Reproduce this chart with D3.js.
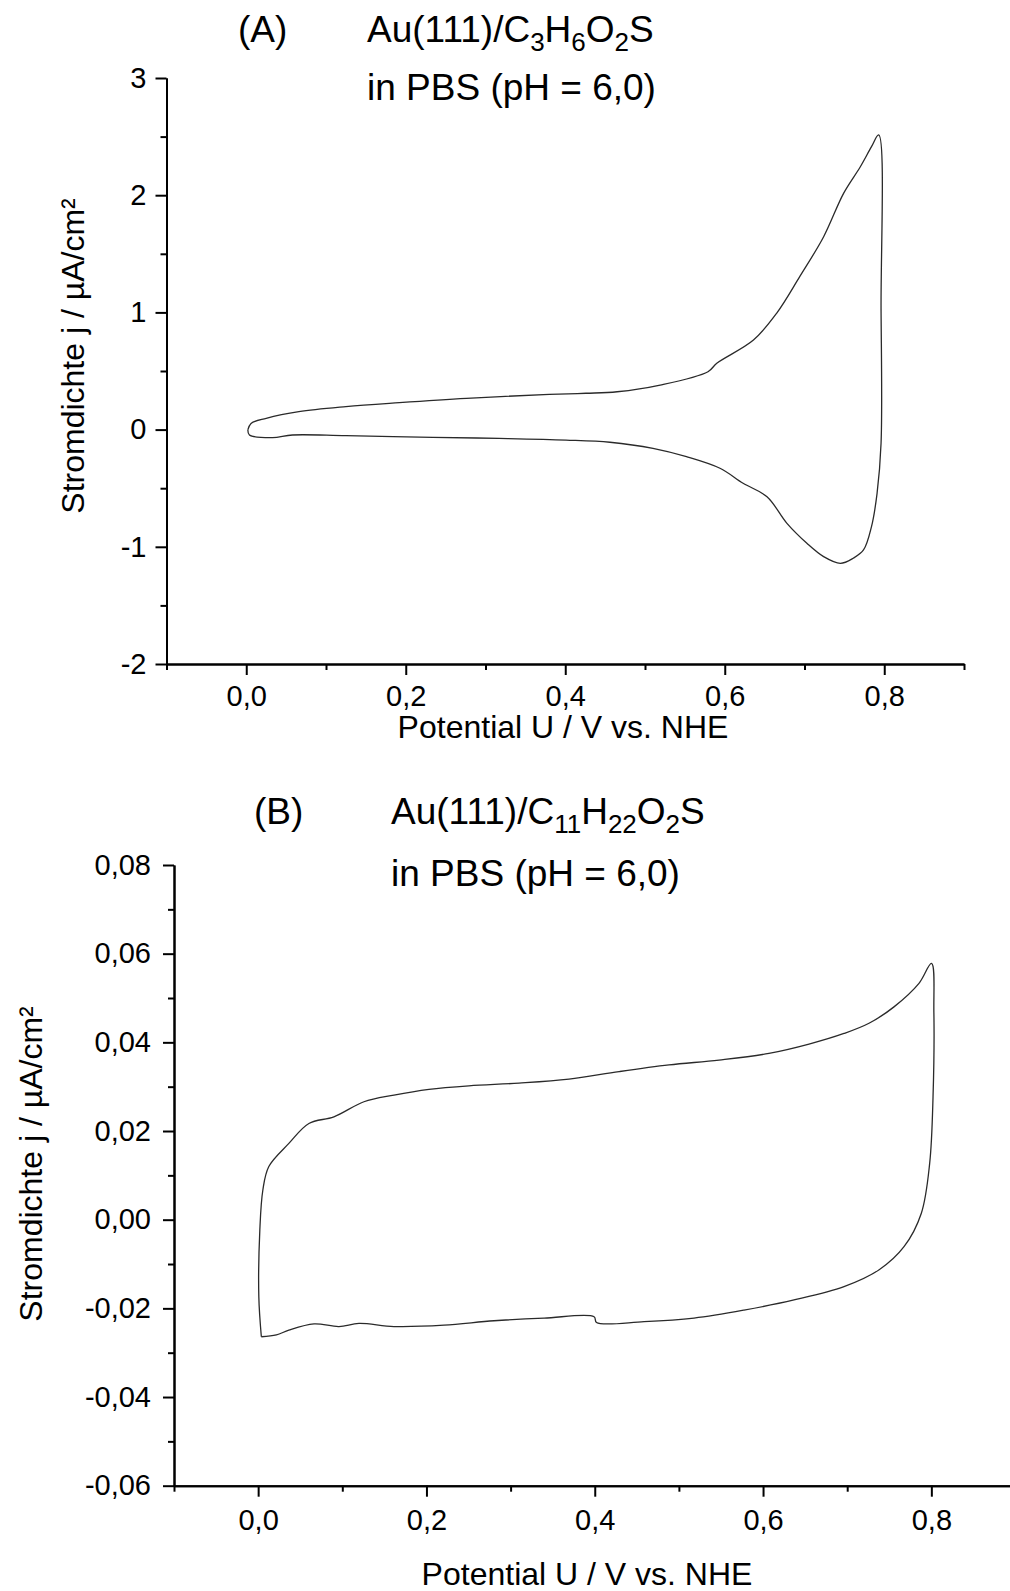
<!DOCTYPE html>
<html>
<head>
<meta charset="utf-8">
<script src="https://cdn.jsdelivr.net/npm/d3@7"></script>
<style>
    body { margin: 0; background: #fff; }
    svg { display: block; font-family: "Liberation Sans", Arial, sans-serif; }
    .axis path, .axis line { stroke: #000; stroke-width: 2px; }
</style>
</head>
<body>
<div id="chart"></div>
<script>
// panel A : Au(111)/C3H6O2S, scan 0 -> 0.8 V and back
const potentialA = [0.002, 0.006, 0.025, 0.066, 0.125, 0.192, 0.276, 0.380, 0.426, 0.465, 0.519, 0.579, 0.590,
    0.636, 0.665, 0.694, 0.724, 0.749, 0.770, 0.784, 0.793,
    0.796, 0.796, 0.791, 0.784, 0.774, 0.761, 0.745, 0.724, 0.703, 0.678, 0.653, 0.623, 0.594, 0.552,
    0.510, 0.456, 0.401, 0.317, 0.234, 0.125, 0.058, 0.033, 0.004, 0.002];
const currentA = [-0.003, 0.053, 0.096, 0.153, 0.196, 0.230, 0.267, 0.300, 0.310, 0.323, 0.380, 0.494, 0.566,
    0.764, 0.992, 1.305, 1.646, 2.016, 2.243, 2.414, 2.514,
    1.020, -0.117, -0.544, -0.828, -1.027, -1.098, -1.141, -1.084, -0.970, -0.800, -0.573, -0.458, -0.330, -0.231,
    -0.160, -0.108, -0.089, -0.075, -0.066, -0.052, -0.046, -0.069, -0.046, -0.003];

// panel B : Au(111)/C11H22O2S
const potentialB = [0.0038, 0.0008, 0.002, 0.0056, 0.0127, 0.0365, 0.0603, 0.090, 0.1257, 0.1614, 0.203, 0.2505,
    0.310, 0.3694, 0.4289, 0.4883, 0.5477, 0.607, 0.6546, 0.6962, 0.7259, 0.7556, 0.7853, 0.8002,
    0.803, 0.802, 0.798, 0.788, 0.7675, 0.738, 0.6962, 0.6368, 0.5774, 0.518, 0.4586, 0.4021, 0.3992,
    0.3398, 0.2803, 0.2209, 0.1614, 0.1198, 0.096, 0.0664, 0.0365, 0.0217, 0.0038];
const currentB = [-0.0264, -0.0174, -0.0023, 0.0067, 0.0120, 0.0172, 0.0217, 0.0232, 0.0266, 0.0281, 0.0294, 0.0302,
    0.0308, 0.0317, 0.0334, 0.0349, 0.0360, 0.0375, 0.0396, 0.0420, 0.0443, 0.0480, 0.0533, 0.0578,
    0.0467, 0.0277, 0.0127, 0.0014, -0.0061, -0.0113, -0.0151, -0.0181, -0.0204, -0.0222, -0.0230, -0.0232, -0.0219,
    -0.0222, -0.0228, -0.0238, -0.0241, -0.0234, -0.0241, -0.0235, -0.0249, -0.0260, -0.0264];

// ticks
const xMajor = [0.0, 0.2, 0.4, 0.6, 0.8];
const xMinor = [-0.1, 0.1, 0.3, 0.5, 0.7, 0.9];
const yMajorA = [-2, -1, 0, 1, 2, 3];
const yMinorA = [-1.5, -0.5, 0.5, 1.5, 2.5];
const yMajorB = [-0.06, -0.04, -0.02, 0.00, 0.02, 0.04, 0.06, 0.08];
const yMinorB = [-0.05, -0.03, -0.01, 0.01, 0.03, 0.05, 0.07];

const xTitle = 'Potential U / V vs. NHE';
const yTitle = 'Stromdichte j / \u00B5A/cm\u00B2';

const width = 1010, height = 1591;

const svg = d3.select('#chart')
    .append('svg')
    .attr('width', width)
    .attr('height', height);

const comma = (d, n) => d.toFixed(n).replace('.', ',');

function drawPanel(p) {
    const x = d3.scaleLinear().domain([-0.1, 0.9]).range(p.xRange);
    const y = d3.scaleLinear().domain(p.yDomain).range(p.yRange);
    const g = svg.append('g');

    // minor ticks first, then major axis on top
    g.append('g')
        .attr('class', 'axis')
        .attr('transform', 'translate(0,' + p.yRange[0] + ')')
        .call(d3.axisBottom(x).tickValues(xMinor).tickSize(6).tickSizeOuter(0).tickFormat(''));
    g.append('g')
        .attr('class', 'axis')
        .attr('transform', 'translate(0,' + p.yRange[0] + ')')
        .call(d3.axisBottom(x).tickValues(xMajor).tickSize(11).tickSizeOuter(0).tickPadding(p.xPad)
            .tickFormat(d => comma(d, 1)))
        .selectAll('text')
        .style('font-size', '29px')
        .style('font-family', '"Liberation Sans", Arial, sans-serif')
        .attr('fill', '#000');

    g.append('g')
        .attr('class', 'axis')
        .attr('transform', 'translate(' + p.xRange[0] + ',0)')
        .call(d3.axisLeft(y).tickValues(p.yMinor).tickSize(6).tickSizeOuter(0).tickFormat(''));
    g.append('g')
        .attr('class', 'axis')
        .attr('transform', 'translate(' + p.xRange[0] + ',0)')
        .call(d3.axisLeft(y).tickValues(p.yMajor).tickSize(11).tickSizeOuter(0).tickPadding(p.yPad)
            .tickFormat(p.yFormat))
        .selectAll('text')
        .style('font-size', '29px')
        .style('font-family', '"Liberation Sans", Arial, sans-serif')
        .attr('fill', '#000');

    const pts = p.potential.map((v, i) => [v, p.current[i]]);
    const line = d3.line()
        .x(d => x(d[0]))
        .y(d => y(d[1]))
        .curve(d3.curveCatmullRom.alpha(0.5));

    g.append('path')
        .datum(pts)
        .attr('fill', 'none')
        .attr('stroke', '#2a2a2a')
        .attr('stroke-width', 1.3)
        .attr('d', line);

    // axis titles
    g.append('text')
        .attr('x', p.xTitlePos[0])
        .attr('y', p.xTitlePos[1])
        .attr('text-anchor', 'middle')
        .style('font-size', '32px')
        .text(xTitle);

    g.append('text')
        .attr('transform', 'translate(' + p.yTitlePos[0] + ',' + p.yTitlePos[1] + ') rotate(-90)')
        .attr('text-anchor', 'middle')
        .style('font-size', '32px')
        .text(yTitle);

    // panel title
    g.append('text')
        .attr('x', p.labelPos[0])
        .attr('y', p.labelPos[1])
        .style('font-size', '37px')
        .text(p.label);

    const t = g.append('text')
        .attr('x', p.titlePos[0])
        .attr('y', p.labelPos[1])
        .style('font-size', '37px');
    let shifted = false;
    p.formula.forEach(part => {
        if (part.sub) {
            t.append('tspan').attr('dy', 9).style('font-size', '26px').text(part.sub);
            shifted = true;
        } else {
            t.append('tspan').attr('dy', shifted ? -9 : 0).text(part.txt);
            shifted = false;
        }
    });

    g.append('text')
        .attr('x', p.titlePos[0])
        .attr('y', p.titlePos[1])
        .style('font-size', '37px')
        .text('in PBS (pH = 6,0)');
}

drawPanel({
    potential: potentialA, current: currentA,
    xRange: [166.5, 964], yDomain: [-2, 3], yRange: [664, 78],
    yMajor: yMajorA, yMinor: yMinorA, yFormat: d => String(d),
    xPad: 10, yPad: 9,
    xTitlePos: [563, 738], yTitlePos: [84, 356],
    label: '(A)', labelPos: [238, 42], titlePos: [367, 100],
    formula: [{txt: 'Au(111)/C'}, {sub: '3'}, {txt: 'H'}, {sub: '6'}, {txt: 'O'}, {sub: '2'}, {txt: 'S'}]
});

drawPanel({
    potential: potentialB, current: currentB,
    xRange: [174, 1015.5], yDomain: [-0.06, 0.08], yRange: [1485.7, 865],
    yMajor: yMajorB, yMinor: yMinorB, yFormat: d => comma(d, 2),
    xPad: 13, yPad: 12,
    xTitlePos: [587, 1585], yTitlePos: [42, 1164],
    label: '(B)', labelPos: [254, 824], titlePos: [391, 886],
    formula: [{txt: 'Au(111)/C'}, {sub: '11'}, {txt: 'H'}, {sub: '22'}, {txt: 'O'}, {sub: '2'}, {txt: 'S'}]
});
</script>
</body>
</html>
